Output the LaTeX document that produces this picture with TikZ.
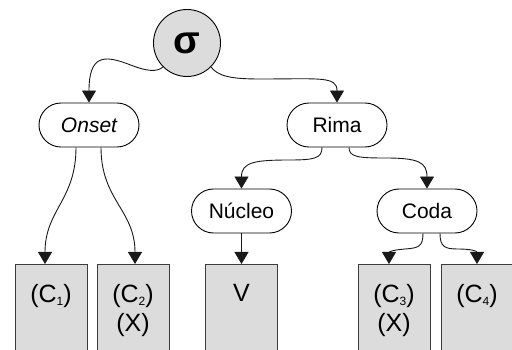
\documentclass[tikz,border=0pt]{standalone}
\usepackage{fontspec}
\setmainfont{Liberation Sans}
\usetikzlibrary{arrows.meta,shapes.misc,positioning}
\definecolor{boxgray}{HTML}{DCDCDC}
\definecolor{edgegray}{HTML}{3C3C3C}
\newcommand{\subidx}[1]{\raisebox{-3pt}{\fontsize{12}{12}\selectfont #1}}
\tikzset{
  syl/.style={circle,draw=black,fill=boxgray,minimum size=67pt,inner sep=0pt,line width=0.9pt,font=\fontsize{39}{39}\selectfont\bfseries},
  part/.style={rounded rectangle,draw=black,fill=white,minimum width=100pt,minimum height=44pt,inner sep=0pt,line width=0.9pt,font=\fontsize{21}{21}\selectfont},
  slot/.style={rectangle,draw=edgegray,fill=boxgray,minimum width=72pt,minimum height=100pt,anchor=north,line width=1pt},
  slottext/.style={anchor=north,align=center,inner sep=0pt,font=\fontsize{25}{29}\selectfont},
  link/.style={-{Triangle[length=12pt,width=14pt]},line width=0.9pt,black!90},
}
\begin{document}
\begin{tikzpicture}[x=1pt,y=-1pt]
    \useasboundingbox (0,0) rectangle (512,350);
    \clip (0,0) rectangle (512,350);

    \node[syl] (sigma) at (187,43) {σ};
    \node[part] (onset) at (89,125) {\itshape Onset};
    \node[part] (rima) at (337,125) {Rima};
    \node[part] (nucleo) at (241.5,211) {Núcleo};
    \node[part] (coda) at (427,211) {Coda};

    \node[slot] (c1) at (51,264) {};
    \node[slot] (c2) at (133,264) {};
    \node[slot] (v) at (241.5,264) {};
    \node[slot] (c3) at (394,264) {};
    \node[slot] (c4) at (477,264) {};

    \node[slottext,below=20pt of c1.north] (c1t) {(C\subidx{1})};
    \node[slottext,below=20pt of c2.north] (c2t) {(C\subidx{2})\\(X)};
    \node[slottext,below=20pt of v.north] (vt) {V};
    \node[slottext,below=20pt of c3.north] (c3t) {(C\subidx{3})\\(X)};
    \node[slottext,below=20pt of c4.north] (c4t) {(C\subidx{4})};

    \draw[link] (sigma.225) .. controls (157,72) and (148,72) .. (128,64) .. controls (104,55) and (89,55) .. (onset.north);
    \draw[link] (sigma.-45) .. controls (218,76) and (230,79) .. (260,79) .. controls (320,79) and (337,76) .. (rima.north);

    \draw[link] ([xshift=-15pt]rima.south) .. controls (322,158) and (315,160) .. (290,160) .. controls (255,160) and (241.5,162) .. (nucleo.north);
    \draw[link] ([xshift=12pt]rima.south) .. controls (349,157) and (358,158) .. (385,158) .. controls (418,158) and (427,162) .. (coda.north);

    \draw[link] ([xshift=-13pt]onset.south) .. controls (76,200) and (45,210) .. ([xshift=-6pt]c1.north);
    \draw[link] ([xshift=12pt]onset.south) .. controls (101,200) and (135,210) .. ([xshift=2pt]c2.north);
    \draw[link] (nucleo.south) -- (v.north);

    \draw[link] ([xshift=-4pt]coda.south) .. controls (423,247) and (418,248) .. (405,249) .. controls (392,250) and (389,252) .. ([xshift=-5pt]c3.north);
    \draw[link] ([xshift=13pt]coda.south) .. controls (440,247) and (445,249) .. (458,249) .. controls (471,249) and (477,251) .. (c4.north);
\end{tikzpicture}
\end{document}
